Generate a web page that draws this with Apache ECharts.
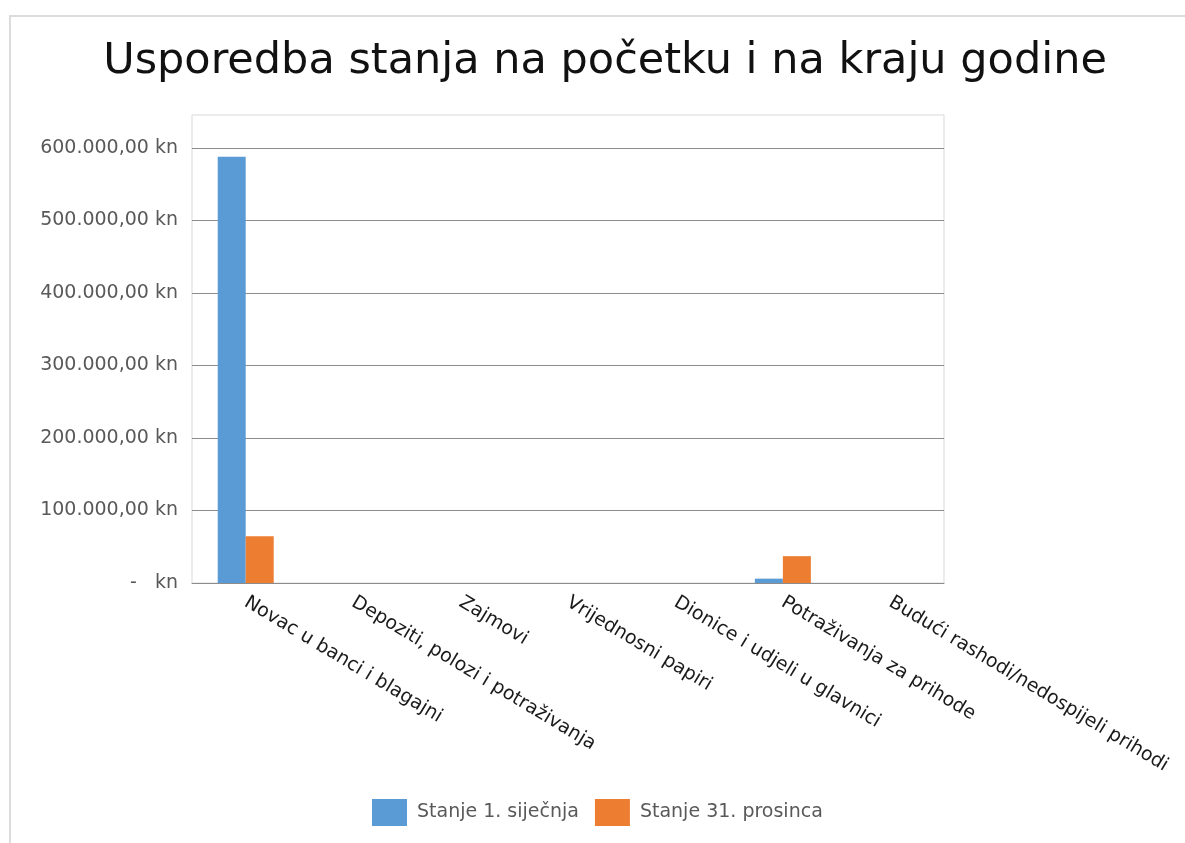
<!DOCTYPE html>
<html>
<head>
<meta charset="utf-8">
<script src="https://cdn.jsdelivr.net/npm/echarts@6/dist/echarts.min.js"></script>
<style>
  html, body { margin: 0; padding: 0; background: #fff; overflow: hidden; }
  #chart { width: 1185px; height: 843px; }
  #frame { position: absolute; left: 9px; top: 15px; width: 1300px; height: 900px;
           border-left: 2px solid #dcdcdc; border-top: 2px solid #dcdcdc; pointer-events: none; }
</style>
</head>
<body>
<div id="chart"></div>
<div id="frame"></div>
<script>
  var categories = [
    'Novac u banci i blagajni',
    'Depoziti, polozi i potraživanja',
    'Zajmovi',
    'Vrijednosni papiri',
    'Dionice i udjeli u glavnici',
    'Potraživanja za prihode',
    'Budući rashodi/nedospijeli prihodi'
  ];
  var stanjePocetak = [588000, 0, 0, 0, 0, 6000, 0];
  var stanjeKraj = [64500, 0, 0, 0, 0, 37000, 0];
  var seriesNames = ['Stanje 1. siječnja', 'Stanje 31. prosinca'];

  // 600000 -> "600.000,00 kn", 0 -> "-   kn"
  function knFormat(v) {
    if (v === 0) return '-   kn';
    var s = String(Math.round(v)).replace(/\B(?=(\d{3})+(?!\d))/g, '.');
    return s + ',00 kn';
  }

  var font = 'DejaVu Sans';
  var myChart = echarts.init(document.getElementById('chart'));

  var option = {
    backgroundColor: '#fff',
    color: ['#5B9BD5', '#ED7D31'],
    title: {
      text: 'Usporedba stanja na početku i na kraju godine',
      left: 600,
      textAlign: 'center',
      top: 35,
      textStyle: { fontFamily: font, fontSize: 43, fontWeight: 'normal', color: '#111' }
    },
    legend: {
      data: seriesNames,
      left: 367,
      bottom: 12,
      itemWidth: 35,
      itemHeight: 27,
      itemGap: 16,
      icon: 'rect',
      textStyle: { fontFamily: font, fontSize: 19, color: '#595959', padding: [0, 0, 0, 5] }
    },
    grid: [
      { left: 192, right: 241, top: 148, bottom: 260, containLabel: false },
      { left: 192, right: 241, top: 115, bottom: 260, show: true, borderColor: '#d9d9d9', borderWidth: 1 }
    ],
    xAxis: [
      {
        type: 'category',
        data: categories,
        gridIndex: 0,
        axisLine: { lineStyle: { color: '#8c8c8c', width: 1 } },
        axisTick: { show: false },
        axisLabel: {
          rotate: -31,
          margin: 18,
          interval: 0,
          fontFamily: font,
          fontSize: 19,
          color: '#1a1a1a'
        }
      },
      { type: 'category', gridIndex: 1, show: false, data: categories }
    ],
    yAxis: [
      {
        type: 'value',
        gridIndex: 0,
        min: 0,
        max: 600000,
        interval: 100000,
        axisLine: { show: false },
        axisTick: { show: false },
        splitLine: { lineStyle: { color: '#8c8c8c', width: 1 } },
        axisLabel: {
          margin: 14,
          fontFamily: font,
          fontSize: 19,
          color: '#595959',
          formatter: knFormat
        }
      },
      { type: 'value', gridIndex: 1, show: false, splitLine: { show: false } }
    ],
    series: [
      {
        name: seriesNames[0],
        type: 'bar',
        xAxisIndex: 0,
        yAxisIndex: 0,
        data: stanjePocetak,
        barWidth: 28,
        barGap: '0%'
      },
      {
        name: seriesNames[1],
        type: 'bar',
        xAxisIndex: 0,
        yAxisIndex: 0,
        data: stanjeKraj,
        barWidth: 28,
        barGap: '0%'
      }
    ]
  };

  myChart.setOption(option);

  window.addEventListener('resize', function () {
    myChart.resize();
  });
</script>
</body>
</html>
